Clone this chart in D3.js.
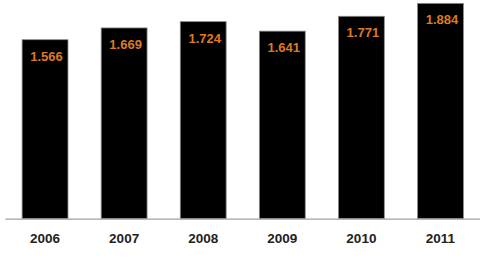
<!DOCTYPE html>
<html>
<head>
<meta charset="utf-8">
<script src="https://cdn.jsdelivr.net/npm/d3@7"></script>
<style>
  body { margin: 0; background: #fff; }
  svg { display: block; }
</style>
</head>
<body>
<div id="chart"></div>
<script>
// data
var years = ["2006", "2007", "2008", "2009", "2010", "2011"];
var values = [1.566, 1.669, 1.724, 1.641, 1.771, 1.884];
var valueLabels = ["1.566", "1.669", "1.724", "1.641", "1.771", "1.884"];

var width = 489;
var height = 266;
var baseY = 218.7;

var svg = d3
  .select("#chart")
  .append("svg")
  .attr("width", width)
  .attr("height", height);

var x = d3
  .scaleBand()
  .domain(years)
  .range([5.5, 480])
  .paddingInner(0.42)
  .paddingOuter(0.21);

var y = d3.scaleLinear().domain([0, 2]).range([baseY, baseY - 2 * 114.3]);

// bars
svg
  .selectAll("rect.bar")
  .data(values)
  .enter()
  .append("rect")
  .attr("class", "bar")
  .attr("x", function(d, i) {
    return x(years[i]);
  })
  .attr("y", function(d) {
    return y(d);
  })
  .attr("width", x.bandwidth())
  .attr("height", function(d) {
    return baseY - y(d);
  })
  .style("fill", "#000")
  .style("stroke", "#8a8a8a")
  .style("stroke-width", 0.8);

// value labels inside bars
svg
  .selectAll("text.val")
  .data(values)
  .enter()
  .append("text")
  .attr("class", "val")
  .attr("x", function(d, i) {
    return x(years[i]) + x.bandwidth() / 2 + 1.5;
  })
  .attr("y", function(d) {
    return y(d) + 21;
  })
  .attr("text-anchor", "middle")
  .style("font-family", "Liberation Sans, Arial, sans-serif")
  .style("font-weight", "bold")
  .style("font-size", "13px")
  .style("fill", "#DD7A22")
  .text(function(d, i) {
    return valueLabels[i];
  });

// axis line
svg
  .append("line")
  .attr("x1", 5.5)
  .attr("x2", 480)
  .attr("y1", baseY + 0.5)
  .attr("y2", baseY + 0.5)
  .style("stroke", "#a0a0a0")
  .style("stroke-width", 1.2);

// year labels
var xAxis = svg
  .append("g")
  .attr("transform", "translate(0," + baseY + ")")
  .call(d3.axisBottom(x).tickSize(0).tickPadding(15));

xAxis.select(".domain").remove();
xAxis
  .selectAll("text")
  .style("font-family", "Liberation Sans, Arial, sans-serif")
  .style("font-weight", "bold")
  .style("font-size", "13.5px")
  .style("fill", "#222");
</script>
</body>
</html>
